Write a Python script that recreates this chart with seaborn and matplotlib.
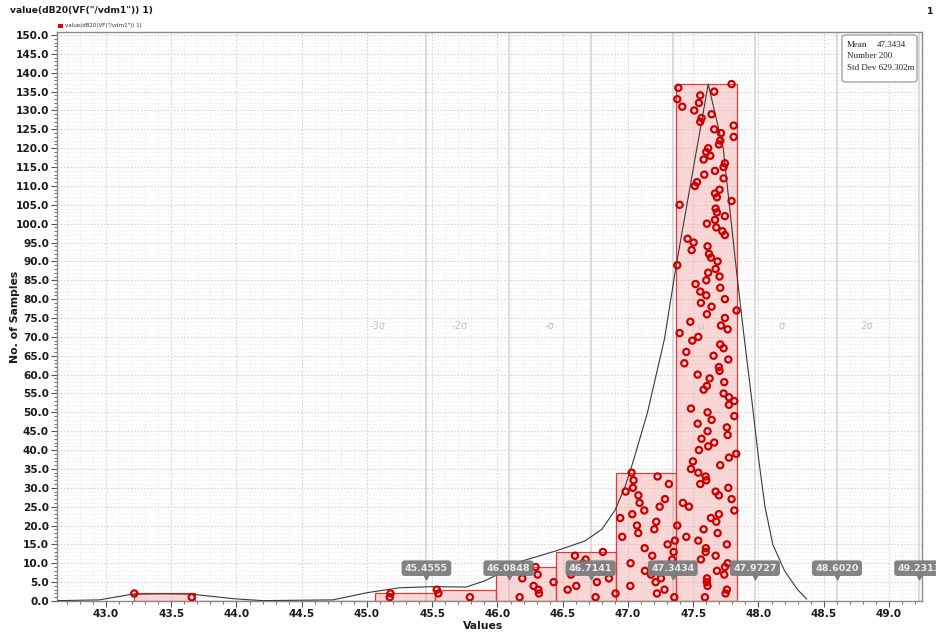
import numpy as np
import pandas as pd
import matplotlib
matplotlib.use("Agg")
import matplotlib.pyplot as plt
from matplotlib.ticker import MultipleLocator, FormatStrFormatter
from matplotlib.patches import FancyBboxPatch
import seaborn as sns

# Monte Carlo samples of dB20(VF("/vdm1")), grouped by histogram bin and
# listed in the order they are stacked inside each bin
tail_samples = [43.657, 43.217,
                45.175, 45.180,
                45.789, 45.547, 45.535]
shoulder_samples = [46.170, 46.318, 46.313, 46.277, 46.430, 46.190, 46.308, 46.110, 46.292,
                    46.752, 46.905, 46.538, 46.604, 46.762, 46.854, 46.563, 46.813, 46.798,
                    46.655, 46.676, 46.594, 46.808]
rise_samples = [47.355, 47.222, 47.280, 47.018, 47.212, 47.253, 47.176, 47.130, 47.352,
                47.020, 47.339, 47.186, 47.350, 47.128, 47.304, 47.360, 46.956, 47.079,
                47.202, 47.069, 47.217, 46.941, 47.033, 47.125, 47.243, 47.089, 47.284,
                47.080, 46.982, 47.038, 47.314, 47.043, 47.227, 47.028]
peak_samples = [47.590, 47.748, 47.758, 47.610, 47.605, 47.606, 47.738, 47.682, 47.743, 47.764,
                47.559, 47.672, 47.595, 47.597, 47.758, 47.539, 47.447, 47.687, 47.580, 47.378,
                47.677, 47.636, 47.697, 47.815, 47.467, 47.421, 47.794, 47.697, 47.672, 47.769,
                47.554, 47.600, 47.595, 47.539, 47.483, 47.707, 47.498, 47.774, 47.830, 47.544,
                47.615, 47.661, 47.564, 47.764, 47.610, 47.758, 47.534, 47.641, 47.815, 47.610,
                47.483, 47.774, 47.815, 47.774, 47.733, 47.580, 47.605, 47.738, 47.626, 47.534,
                47.702, 47.697, 47.432, 47.769, 47.656, 47.447, 47.733, 47.707, 47.493, 47.539,
                47.396, 47.764, 47.713, 47.478, 47.743, 47.605, 47.832, 47.641, 47.559, 47.743,
                47.600, 47.554, 47.707, 47.518, 47.600, 47.702, 47.615, 47.672, 47.378, 47.687,
                47.636, 47.621, 47.488, 47.610, 47.503, 47.457, 47.743, 47.723, 47.677, 47.605,
                47.667, 47.743, 47.682, 47.672, 47.396, 47.794, 47.682, 47.667, 47.702, 47.513,
                47.529, 47.733, 47.585, 47.667, 47.733, 47.743, 47.580, 47.631, 47.600, 47.615,
                47.697, 47.707, 47.810, 47.713, 47.661, 47.810, 47.554, 47.564, 47.641, 47.508,
                47.416, 47.544, 47.378, 47.554, 47.661, 47.386, 47.794]

# density estimate overlay (scaled to counts)
curve_x = [42.63, 42.95, 43.20, 43.43, 43.66, 43.98, 44.20, 44.74, 45.00, 45.25, 45.50,
           45.76, 45.90, 46.00, 46.18, 46.45, 46.67, 46.80, 46.90, 46.98, 47.04, 47.15,
           47.28, 47.37, 47.615, 47.73, 47.83, 47.89, 47.95, 48.00, 48.05, 48.11, 48.20,
           48.30, 48.37]
curve_y = [0.1, 0.3, 1.8, 1.9, 1.8, 0.6, 0.1, 0.3, 2.2, 3.5, 3.8, 3.7, 5.3, 7.0, 10.5,
           13.3, 15.9, 19.0, 24.0, 30.5, 37.0, 50.0, 69.5, 89.0, 137.0, 120.0, 88.0, 70.0,
           53.0, 38.0, 25.0, 15.0, 8.0, 3.0, 0.5]

# statistics and sigma markers
stat_mean = "47.3434"
stat_number = "200"
stat_std = "629.302m"
marker_values = [45.4555, 46.0848, 46.7141, 47.3434, 47.9727, 48.6020, 49.2313]
sigma_names = ["-3σ", "-2σ", "-σ", "μ", "σ", "2σ"]
sigma_pos = [45.080, 45.710, 46.395, 47.554, 48.179, 48.830]

title_text = 'value(dB20(VF("/vdm1")) 1)'

samples = np.array(tail_samples + shoulder_samples + rise_samples + peak_samples)
n_bins = 10
edges = np.histogram_bin_edges(samples, bins=n_bins)
bin_idx = np.clip(np.digitize(samples, edges[1:-1]), 0, n_bins - 1)
stack = np.zeros(len(samples))
seen = {}
for i, b in enumerate(bin_idx):
    seen[b] = seen.get(b, 0) + 1
    stack[i] = seen[b]
df = pd.DataFrame({"value": samples, "level": stack})
curve = pd.DataFrame({"x": curve_x, "y": curve_y})

sns.set_theme(style="white")
narrow = ["Liberation Sans Narrow", "DejaVu Sans"]
plt.rcParams["font.family"] = narrow

W, H = 936, 635
fig = plt.figure(figsize=(W / 100, H / 100), dpi=100)
left, right, top, bottom = 57.3, 921.7, 32.0, 601.0
ax = fig.add_axes([left / W, 1 - bottom / H, (right - left) / W, (bottom - top) / H])

# grid
ax.set_xlim(42.627, 49.251)
ax.set_ylim(0, 150.8)
ax.xaxis.set_major_locator(MultipleLocator(0.5))
ax.xaxis.set_minor_locator(MultipleLocator(0.1))
ax.yaxis.set_major_locator(MultipleLocator(5))
ax.yaxis.set_minor_locator(MultipleLocator(1))
ax.xaxis.set_major_formatter(FormatStrFormatter("%.1f"))
ax.yaxis.set_major_formatter(FormatStrFormatter("%.1f"))
ax.grid(which="major", color="#d4d4d4", lw=0.8, ls=(0, (1.5, 1.5)))
ax.grid(which="minor", color="#e8e8e8", lw=0.6, ls=(0, (1, 1.5)))
ax.set_axisbelow(True)

# sigma marker lines
for v in marker_values:
    ax.axvline(v, color="#d6d6d6", lw=1.2, zorder=1)

# histogram
sns.histplot(data=df, x="value", bins=n_bins, stat="count", ax=ax,
             color="#f4a6a6", edgecolor="#e03a3a", linewidth=0.9, zorder=2)
for p in ax.patches:
    p.set_alpha(None)
    p.set_edgecolor("#e03a3a")
    p.set_facecolor((0.96, 0.64, 0.64, 0.42))

# density curve
sns.lineplot(data=curve, x="x", y="y", ax=ax, color="#3a3a3a", lw=0.8,
             estimator=None, sort=False, zorder=4)

# individual samples
sns.scatterplot(data=df, x="value", y="level", ax=ax, marker="o", s=20,
                facecolor="none", edgecolor="#cc0000", linewidth=1.6, zorder=5)

# sigma names
for name, xp in zip(sigma_names, sigma_pos):
    ax.text(xp, 73.0, name, color="#c4c4c4", fontsize=7.2, ha="center", va="center", zorder=3,
            family=["DejaVu Sans"])

# marker value tags
for v in marker_values:
    ax.text(v, 8.7, f"{v:.4f}", ha="center", va="center", fontsize=6.8, fontweight="bold",
            color="#ececec", zorder=6, clip_on=False,
            bbox=dict(boxstyle="round,pad=0.35,rounding_size=0.35", fc="#7c7c7c", ec="none", alpha=0.95))
    ax.plot([v], [6.4], marker="v", ms=3.5, color="#7c7c7c", zorder=6, clip_on=True)

# axes styling
for s in ax.spines.values():
    s.set_color("#8a8a8a")
    s.set_linewidth(1.0)
ax.tick_params(which="major", direction="out", length=4, width=0.8, color="#555555",
               labelsize=7.6, labelcolor="#1a1a1a", pad=2)
ax.tick_params(which="minor", direction="out", length=2, width=0.6, color="#555555")
ax.tick_params(axis="both", which="both", left=True, bottom=True)
for lbl in ax.get_xticklabels() + ax.get_yticklabels():
    lbl.set_fontweight("bold")
ax.set_xlabel("Values", fontsize=7.8, fontweight="bold", color="#1a1a1a", va="center")
ax.set_ylabel("No. of Samples", fontsize=7.8, fontweight="bold", color="#1a1a1a", va="center")
ax.xaxis.set_label_coords((483 - 57.3) / 864.4, (601 - 626) / 569)
ax.yaxis.set_label_coords((15 - 57.3) / 864.4, 0.5)

# title, index and legend
fig.text(10 / W, 1 - 11 / H, title_text, fontsize=6.6, fontweight="bold", ha="left", va="center",
         color="#1a1a1a")
fig.text(930 / W, 1 - 11 / H, "1", fontsize=6.6, fontweight="bold", ha="center", va="center",
         color="#1a1a1a")
fig.patches.append(plt.Rectangle((57.5 / W, 1 - 28 / H), 5 / W, 4 / H, transform=fig.transFigure,
                                 fc="#e00000", ec="none"))
fig.text(65 / W, 1 - 26 / H, title_text, fontsize=4, ha="left", va="center", color="#333333")

# statistics box
box = FancyBboxPatch((842 / W, 1 - 82 / H), 75 / W, 47 / H, transform=fig.transFigure,
                     boxstyle="round,pad=0,rounding_size=0.004", fc="white", ec="#9a9a9a", lw=0.9,
                     zorder=10)
fig.patches.append(box)
serif = ["Liberation Serif", "DejaVu Serif"]
fig.text(847 / W, 1 - 45 / H, "Mean", fontsize=6.5, family=serif, va="center", zorder=11)
fig.text(877 / W, 1 - 45 / H, stat_mean, fontsize=6.5, family=serif, va="center", zorder=11)
fig.text(847 / W, 1 - 56.5 / H, "Number " + stat_number, fontsize=6.5, family=serif, va="center", zorder=11)
fig.text(847 / W, 1 - 68 / H, "Std Dev " + stat_std, fontsize=6.5, family=serif, va="center", zorder=11)

fig.savefig("out.png", dpi=100)
